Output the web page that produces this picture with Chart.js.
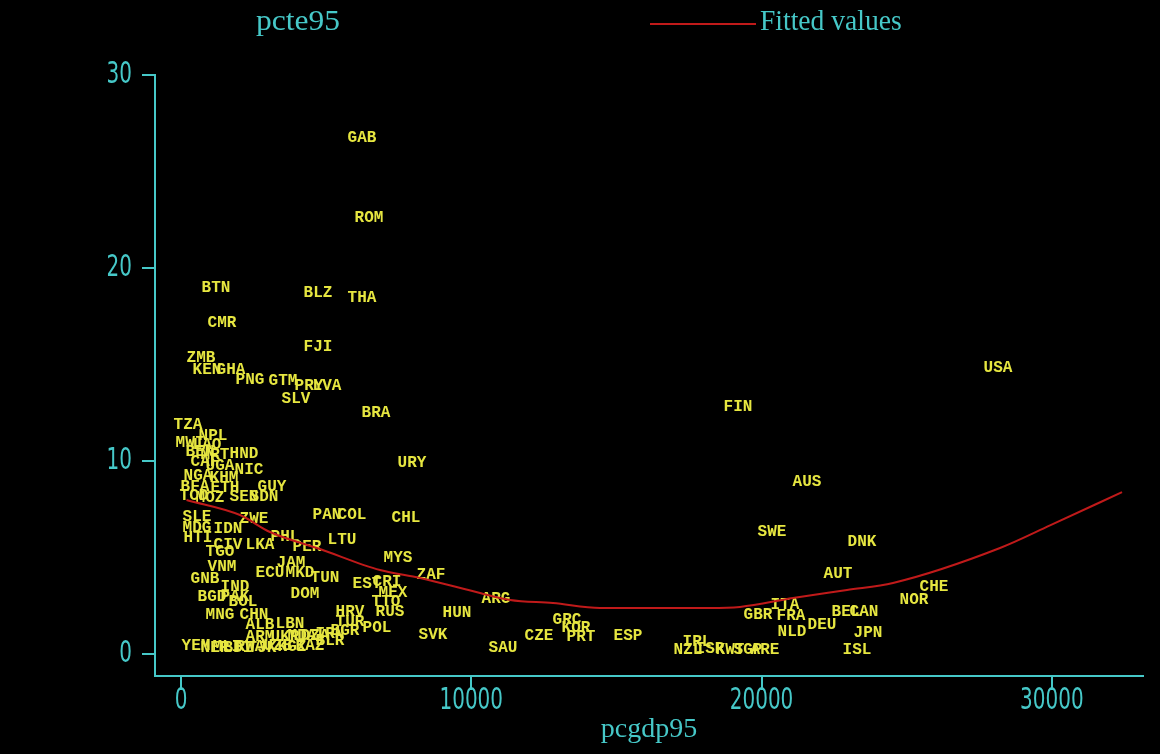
<!DOCTYPE html>
<html>
<head>
<meta charset="utf-8">
<title>pcte95 vs pcgdp95</title>
<script src="https://cdn.jsdelivr.net/npm/chart.js@4.4.1/dist/chart.umd.min.js"></script>
<style>
  html, body { margin: 0; padding: 0; background: #000; }
  #wrap { width: 1160px; height: 754px; }
</style>
</head>
<body>
<div id="wrap"><canvas id="c" width="1160" height="754"></canvas></div>
<script>
// Country codes, GDP per capita 1995 and pcte95 for each country
const countries = [
  'GAB','ROM','BTN','BLZ','THA','CMR','FJI','ZMB','KEN','GHA',
  'PNG','GTM','PRY','LVA','SLV','BRA','FIN','USA','TZA','NPL',
  'MWI','LAO','BEN','HND','MRT','CAF','UGA','NIC','NGA','KHM',
  'BFA','ETH','GUY','TCD','MOZ','SEN','SDN','SLE','ZWE','MDG',
  'IDN','HTI','CIV','LKA','PHL','PER','TGO','VNM','JAM','ECU',
  'MKD','TUN','GNB','IND','BGD','PAK','BOL','DOM','MNG','CHN',
  'ALB','LBN','ARM','UKR','MDA','YEM','NER','MLI','BDI','RWA',
  'TJK','UZB','KGZ','KAZ','HRV','TUR','RUS','TTO','MEX','POL',
  'BGR','IRN','DZA','BLR','PAN','COL','CHL','LTU','MYS','ZAF',
  'EST','CRI','HUN','SVK','URY','ARG','SAU','CZE','GRC','KOR',
  'PRT','ESP','IRL','NZL','ISR','KWT','SGP','ARE','SWE','AUS',
  'DNK','AUT','CHE','NOR','ITA','GBR','FRA','NLD','DEU','BEL',
  'CAN','JPN','ISL'
];
const pcgdp95 = [
  6235, 6476, 1206, 4719, 6235, 1412, 4719,  689,  896, 1722,
  2377, 3514, 4409, 5029, 3961, 6717, 19187, 28143, 241, 1102,
   310,  896,  655, 2170, 1171,  827, 1343, 2342,  586, 1481,
   482, 1516, 3135,  448,  999, 2170, 2859,  551, 2515,  551,
  1619,  586, 1619, 2721, 3583, 4340, 1343, 1412, 3789, 3066,
  4099, 4960,  827, 1860, 1068, 1860, 2136, 4271, 1343, 2515,
  2721, 3755, 2721, 3582, 4168,  517, 1171, 1585, 1963, 2377,
  2790, 3341, 3824, 4444, 5822, 5822, 7199, 7062, 7303, 6752,
  5649, 5133, 4616, 5133, 5029, 5890, 7751, 5546, 7475, 8612,
  6407, 7096, 9507, 8681, 7957, 10851, 11092, 12332, 13297, 13607,
  13779, 15398, 17775, 17465, 18222, 18911, 19531, 20117, 20358, 21564,
  23458, 22632, 25939, 25250, 20806, 19876, 21013, 21047, 22081, 22907,
  23527, 23665, 23286
];
const pcte95 = [
  26.74, 22.59, 18.96, 18.70, 18.45, 17.15, 15.91, 15.34, 14.72, 14.72,
  14.20, 14.15, 13.89, 13.89, 13.21, 12.49, 12.80, 14.82, 11.87, 11.30,
  10.93, 10.83, 10.47, 10.36, 10.31,  9.95,  9.74,  9.53,  9.22,  9.12,
   8.65,  8.60,  8.65,  8.19,  8.08,  8.13,  8.13,  7.10,  6.99,  6.53,
   6.48,  6.01,  5.65,  5.65,  6.06,  5.54,  5.28,  4.51,  4.72,  4.20,
   4.20,  3.94,  3.89,  3.47,  2.95,  2.95,  2.69,  3.11,  2.02,  2.02,
   1.50,  1.55,  0.88,  0.88,  0.93,  0.41,  0.31,  0.36,  0.31,  0.36,
   0.31,  0.41,  0.36,  0.41,  2.18,  1.66,  2.18,  2.69,  3.16,  1.35,
   1.19,  1.04,  0.93,  0.67,  7.20,  7.20,  7.05,  5.91,  4.97,  4.09,
   3.63,  3.73,  2.12,  0.98,  9.90,  2.85,  0.31,  0.93,  1.76,  1.35,
   0.88,  0.93,  0.62,  0.21,  0.26,  0.21,  0.21,  0.21,  6.32,  8.91,
   5.80,  4.15,  3.47,  2.80,  2.54,  2.02,  1.97,  1.14,  1.50,  2.18,
   2.18,  1.09,  0.21
];

// Fitted values (quadratic fit of pcte95 on pcgdp95), sampled along pcgdp95
const fitGdp = [190, 2033, 3066, 4789, 6856, 8234, 10301, 11335, 12816, 14435,
                16502, 18224, 19258, 21083, 22944, 24528, 28215, 29937, 32418];
const fitTe  = [7.98, 7.20, 6.32, 5.44, 4.35, 3.94, 3.16, 2.80, 2.64, 2.38,
                2.38, 2.38, 2.44, 2.90, 3.32, 3.68, 5.49, 6.66, 8.39];

// Axis ticks
const xTicks = [0, 10000, 20000, 30000];
const yTicks = [0, 10, 20, 30];

const CYAN = '#46c8c8';
const YELLOW = '#e6e640';
const RED = '#c01a1a';
const TICK_FONT = "'DejaVu Sans Condensed', 'DejaVu Sans', sans-serif";
const SERIF = "'Liberation Serif', 'DejaVu Serif', serif";

const scatterPoints = pcgdp95.map((g, i) => ({ x: g, y: pcte95[i] }));
const fitPoints = fitGdp.map((g, i) => ({ x: g, y: fitTe[i] }));

// Text drawn horizontally squeezed, for the narrow tall axis lettering
function narrowText(ctx, text, x, y, sx, align) {
  ctx.save();
  ctx.translate(x, y);
  ctx.scale(sx, 1);
  ctx.textAlign = align;
  ctx.fillText(text, 0, 0);
  ctx.restore();
}

// Draws each country's code at its point (markers themselves are hidden)
const countryLabels = {
  id: 'countryLabels',
  afterDatasetDraw(chart, args) {
    if (args.index !== 1) return;
    const ctx = chart.ctx;
    ctx.save();
    ctx.font = "bold 16px 'Liberation Mono', 'DejaVu Sans Mono', monospace";
    ctx.fillStyle = YELLOW;
    ctx.textAlign = 'center';
    ctx.textBaseline = 'middle';
    args.meta.data.forEach((pt, i) => {
      ctx.fillText(countries[i], pt.x, pt.y);
    });
    ctx.restore();
  }
};

// Tick numbers for both axes, placed from the scales' own pixel mapping
const tickNumbers = {
  id: 'tickNumbers',
  afterDraw(chart) {
    const ctx = chart.ctx;
    const xs = chart.scales.x, ys = chart.scales.y;
    ctx.save();
    ctx.fillStyle = CYAN;
    ctx.font = '30px ' + TICK_FONT;
    ctx.textBaseline = 'middle';
    xs.ticks.forEach(t => {
      narrowText(ctx, String(t.value), xs.getPixelForValue(t.value), xs.top + 25, 0.74, 'center');
    });
    ys.ticks.forEach(t => {
      narrowText(ctx, String(t.value), ys.right - 23, ys.getPixelForValue(t.value), 0.74, 'right');
    });
    ctx.restore();
  }
};

// Two-column key above the plot
const topKey = {
  id: 'topKey',
  afterDraw(chart) {
    const ctx = chart.ctx;
    ctx.save();
    ctx.font = '30px ' + SERIF;
    ctx.fillStyle = CYAN;
    ctx.textBaseline = 'middle';
    narrowText(ctx, 'pcte95', 298, 22, 1.05, 'center');
    ctx.strokeStyle = RED;
    ctx.lineWidth = 2;
    ctx.beginPath();
    ctx.moveTo(650, 24);
    ctx.lineTo(756, 24);
    ctx.stroke();
    narrowText(ctx, 'Fitted values', 760, 22, 0.92, 'left');
    ctx.restore();
  }
};

const bg = {
  id: 'bg',
  beforeDraw(chart) {
    const ctx = chart.ctx;
    ctx.save();
    ctx.fillStyle = '#000';
    ctx.fillRect(0, 0, chart.width, chart.height);
    ctx.restore();
  }
};

new Chart(document.getElementById('c'), {
  type: 'scatter',
  data: {
    datasets: [
      {
        label: 'Fitted values',
        data: fitPoints,
        showLine: true,
        borderColor: RED,
        borderWidth: 2,
        pointRadius: 0,
        cubicInterpolationMode: 'monotone',
        fill: false
      },
      {
        label: 'pcte95',
        data: scatterPoints,
        pointRadius: 0,
        pointHoverRadius: 0
      }
    ]
  },
  options: {
    responsive: false,
    animation: false,
    devicePixelRatio: 1,
    events: [],
    layout: { padding: { top: 75, right: 17, left: 0, bottom: 0 } },
    plugins: {
      legend: { display: false },
      title: { display: false },
      tooltip: { enabled: false }
    },
    scales: {
      x: {
        type: 'linear',
        min: -895,
        max: 33140,
        afterBuildTicks(scale) { scale.ticks = xTicks.map(v => ({ value: v })); },
        afterFit(scale) { scale.height = 78; },
        grid: { drawOnChartArea: false, drawTicks: true, tickLength: 14, color: CYAN, lineWidth: 2 },
        border: { display: true, color: CYAN, width: 2 },
        ticks: { display: false },
        title: {
          display: true,
          text: 'pcgdp95',
          color: CYAN,
          font: { family: SERIF, size: 28 },
          padding: { top: 0, bottom: 8 }
        }
      },
      y: {
        type: 'linear',
        min: -1.14,
        max: 30,
        afterBuildTicks(scale) { scale.ticks = yTicks.map(v => ({ value: v })); },
        afterFit(scale) { scale.width = 155; },
        grid: { drawOnChartArea: false, drawTicks: true, tickLength: 13, color: CYAN, lineWidth: 2 },
        border: { display: true, color: CYAN, width: 2 },
        ticks: { display: false }
      }
    }
  },
  plugins: [bg, countryLabels, tickNumbers, topKey]
});
</script>
</body>
</html>
